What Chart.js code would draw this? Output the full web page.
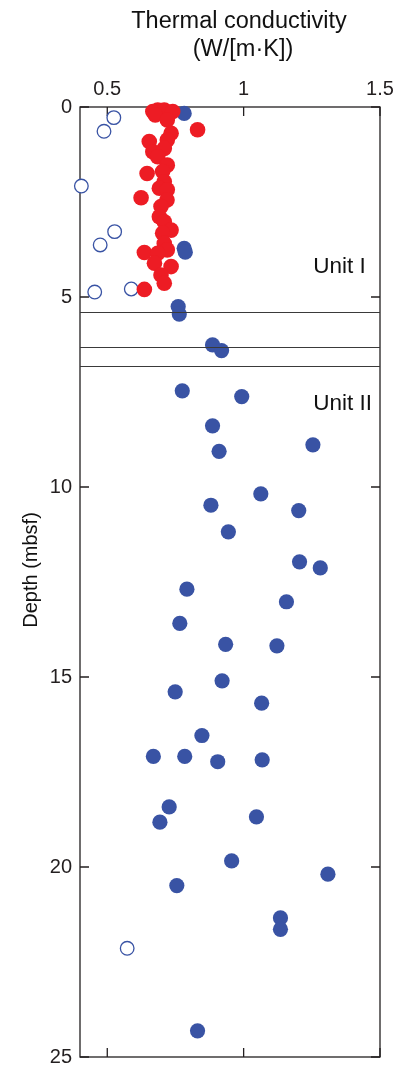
<!DOCTYPE html>
<html>
<head>
<meta charset="utf-8">
<script src="https://cdn.jsdelivr.net/npm/chart.js@4.4.1/dist/chart.umd.min.js"></script>
<style>
  html, body { margin: 0; padding: 0; background: #fff; }
</style>
</head>
<body>
<canvas id="tcChart" width="394" height="1066"></canvas>
<script>
// axis ticks
const xTicks = [0.5, 1, 1.5];
const yTicks = [0, 5, 10, 15, 20, 25];

// lithologic unit boundaries (mbsf) and labels
const unitBoundaries = [5.39, 6.32, 6.81];
const unitNames = ["Unit I", "Unit II"];
const unitNameDepths = [4.37, 7.97];
const unitNameK = 1.255;

// thermal conductivity, red series (W/[m·K]) and depth (mbsf)
const redK = [0.685, 0.667, 0.709, 0.74, 0.676, 0.72, 0.831, 0.734, 0.654, 0.72,
  0.667, 0.709, 0.685, 0.72, 0.646, 0.703, 0.709, 0.691, 0.72, 0.624,
  0.719, 0.697, 0.691, 0.709, 0.734, 0.703, 0.709, 0.636, 0.72, 0.685,
  0.673, 0.734, 0.697, 0.709, 0.636];
const redDepth = [0.08, 0.12, 0.08, 0.12, 0.21, 0.34, 0.6, 0.69, 0.91, 0.87,
  1.18, 1.09, 1.31, 1.53, 1.75, 1.70, 1.97, 2.14, 2.18, 2.39,
  2.45, 2.62, 2.89, 3.02, 3.24, 3.32, 3.59, 3.83, 3.76, 3.85,
  4.11, 4.20, 4.42, 4.64, 4.80];

// filled blue series
const blueK = [0.782, 0.782, 0.786, 0.76, 0.764, 0.886, 0.919, 0.775, 0.993, 0.886,
  0.91, 1.254, 1.063, 0.88, 1.202, 0.944, 1.205, 1.281, 0.792, 1.157,
  0.766, 0.934, 1.122, 0.921, 0.749, 1.066, 0.847, 0.669, 0.784, 0.905,
  1.068, 0.727, 0.693, 1.047, 0.755, 0.956, 1.309, 1.135, 1.135, 0.831];
const blueDepth = [0.17, 3.72, 3.82, 5.25, 5.45, 6.26, 6.41, 7.47, 7.62, 8.39,
  9.06, 8.89, 10.18, 10.48, 10.62, 11.18, 11.97, 12.13, 12.69, 13.02,
  13.59, 14.14, 14.18, 15.1, 15.39, 15.69, 16.54, 17.09, 17.09, 17.23,
  17.18, 18.42, 18.82, 18.68, 20.49, 19.84, 20.19, 21.34, 21.64, 24.31];

// open blue series
const openK = [0.524, 0.488, 0.405, 0.527, 0.474, 0.454, 0.588, 0.573];
const openDepth = [0.28, 0.64, 2.08, 3.28, 3.63, 4.87, 4.79, 22.14];

const FONT = "'Liberation Sans', Arial, Helvetica, sans-serif";
const INK = "#231f20";

function toPoints(xs, ys) {
  return xs.map((x, i) => ({ x: x, y: ys[i] }));
}

const framePlugin = {
  id: "frame",
  beforeDatasetsDraw(chart) {
    const { ctx, chartArea: a, scales } = chart;
    ctx.save();
    ctx.strokeStyle = INK;
    ctx.lineWidth = 1.3;
    ctx.strokeRect(a.left, a.top, a.right - a.left, a.bottom - a.top);
    const len = 9;
    ctx.beginPath();
    xTicks.forEach(v => {
      const px = scales.x.getPixelForValue(v);
      ctx.moveTo(px, a.top); ctx.lineTo(px, a.top + len);
      ctx.moveTo(px, a.bottom); ctx.lineTo(px, a.bottom - len);
    });
    yTicks.forEach(v => {
      const py = scales.y.getPixelForValue(v);
      ctx.moveTo(a.left, py); ctx.lineTo(a.left + len, py);
      ctx.moveTo(a.right, py); ctx.lineTo(a.right - len, py);
    });
    ctx.stroke();
    ctx.restore();
  },
  afterDatasetsDraw(chart) {
    const { ctx, chartArea: a, scales } = chart;
    ctx.save();
    ctx.strokeStyle = "#3a3a3a";
    ctx.lineWidth = 1.2;
    ctx.beginPath();
    unitBoundaries.forEach(d => {
      const py = Math.round(scales.y.getPixelForValue(d)) + 0.5;
      ctx.moveTo(a.left, py); ctx.lineTo(a.right, py);
    });
    ctx.stroke();

    ctx.fillStyle = "#111";
    ctx.font = "22.5px " + FONT;
    ctx.textAlign = "left";
    ctx.textBaseline = "alphabetic";
    unitNames.forEach((t, i) => {
      ctx.fillText(t, scales.x.getPixelForValue(unitNameK), scales.y.getPixelForValue(unitNameDepths[i]));
    });

    // axis titles
    ctx.font = "23.5px " + FONT;
    ctx.textAlign = "center";
    ctx.fillText("Thermal conductivity", 239, 28);
    ctx.fillText("(W/[m·K])", 243, 56);
    ctx.save();
    ctx.translate(37, (a.top + a.bottom) / 2 - 12);
    ctx.rotate(-Math.PI / 2);
    ctx.font = "20px " + FONT;
    ctx.fillText("Depth (mbsf)", 0, 0);
    ctx.restore();
    ctx.restore();
  }
};

new Chart(document.getElementById("tcChart"), {
  type: "scatter",
  data: {
    datasets: [
      {
        label: "open",
        data: toPoints(openK, openDepth),
        pointRadius: 6.8,
        pointBackgroundColor: "#ffffff",
        pointBorderColor: "#3953a4",
        pointBorderWidth: 1.3,
        clip: false,
        order: 3
      },
      {
        label: "blue",
        data: toPoints(blueK, blueDepth),
        pointRadius: 7.6,
        pointBackgroundColor: "#3953a4",
        pointBorderWidth: 0,
        clip: false,
        order: 2
      },
      {
        label: "red",
        data: toPoints(redK, redDepth),
        pointRadius: 7.8,
        pointBackgroundColor: "#ed1c24",
        pointBorderWidth: 0,
        clip: false,
        order: 1
      }
    ]
  },
  options: {
    responsive: false,
    animation: false,
    layout: { padding: { left: 0, top: 0, right: 14, bottom: 9 } },
    plugins: { legend: { display: false }, tooltip: { enabled: false } },
    scales: {
      x: {
        type: "linear",
        position: "top",
        min: 0.4,
        max: 1.5,
        afterBuildTicks: s => { s.ticks = xTicks.map(v => ({ value: v })); },
        afterFit: s => { s.height = 107; s.paddingLeft = 0; s.paddingRight = 0; },
        grid: { display: false, drawTicks: false },
        border: { display: false },
        ticks: {
          padding: 6,
          color: INK,
          font: { family: FONT, size: 20 },
          callback: v => String(v)
        }
      },
      y: {
        type: "linear",
        reverse: true,
        min: 0,
        max: 25,
        afterBuildTicks: s => { s.ticks = yTicks.map(v => ({ value: v })); },
        afterFit: s => { s.width = 80; s.paddingTop = 0; s.paddingBottom = 0; },
        grid: { display: false, drawTicks: false },
        border: { display: false },
        ticks: {
          padding: 8,
          color: INK,
          font: { family: FONT, size: 20 }
        }
      }
    }
  },
  plugins: [framePlugin]
});
</script>
</body>
</html>
